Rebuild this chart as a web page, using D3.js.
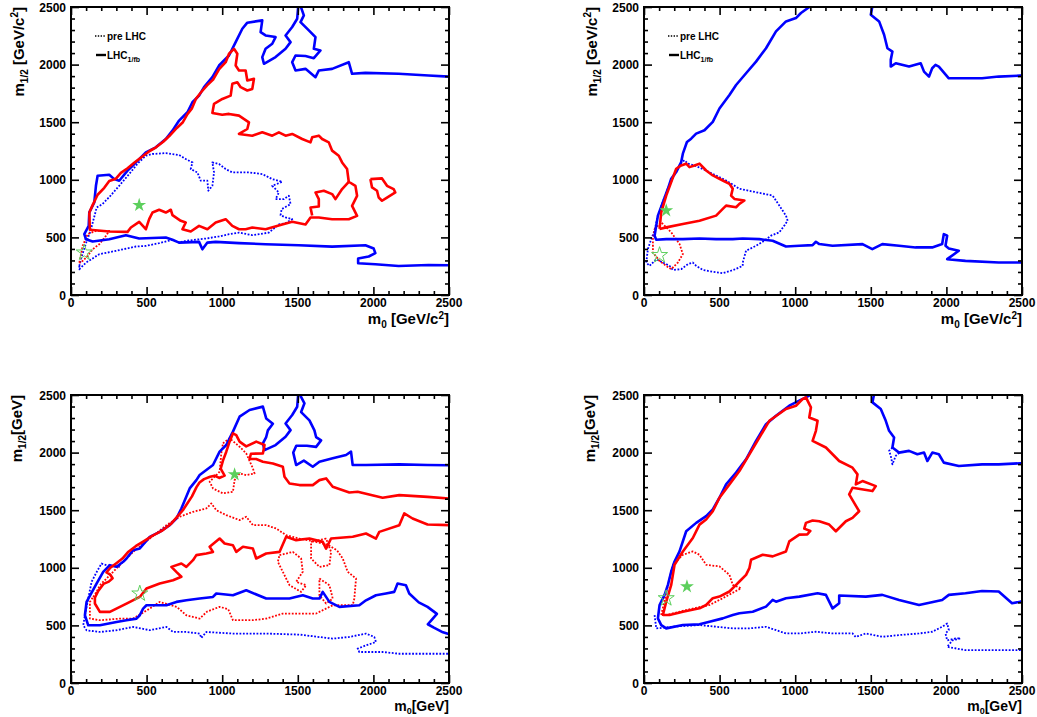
<!DOCTYPE html>
<html><head><meta charset="utf-8">
<script src="https://cdn.jsdelivr.net/npm/d3@7"></script>
<style>
body{margin:0;background:#fff}
text{font-family:"Liberation Sans",Arial,Helvetica,sans-serif;font-weight:bold;fill:#000}
</style>
</head><body>
<svg id="c" width="1037" height="717"></svg>
<script>
// ---------- axis ticks ----------
const majorTicks = [0, 500, 1000, 1500, 2000, 2500];
const minorTicks = d3.range(0, 2501, 100);
const legendLabels = ["pre LHC", "LHC"];

// ---------- Panel TL (top-left) ----------
const TL_blueA = [[2500,258],[2365,261],[2167,252],[2013,267],[1899,276],[1899,316],[1969,334],[2013,363],[2002,403],[1947,432],[1727,420],[1507,432],[1287,441],[1111,450],[957,461],[902,455],[869,397],[847,461],[715,455],[671,479],[627,499],[451,490],[363,519],[253,484],[143,464],[99,484],[88,528],[117,600],[121,716],[154,803],[165,948],[176,1035],[253,1044],[286,1006],[319,992],[374,1079],[407,1122],[451,1180],[495,1238],[561,1282],[627,1354],[671,1427],[715,1514],[770,1586],[803,1673],[847,1731],[880,1804],[935,1891],[979,1992],[1045,2079],[1089,2195],[1133,2311],[1166,2364],[1265,2384],[1254,2282],[1287,2253],[1353,2239],[1331,2181],[1287,2137],[1265,2065],[1276,2007],[1353,2065],[1419,2137],[1452,2195],[1419,2253],[1463,2326],[1496,2398],[1503,2510]];
const TL_blueB = [[1518,2510],[1540,2427],[1518,2369],[1573,2297],[1617,2239],[1606,2137],[1650,2123],[1606,2056],[1551,2074],[1485,2079],[1463,2021],[1485,1949],[1551,1963],[1617,1891],[1639,1949],[1727,1963],[1837,2021],[1859,1920],[1947,1928],[2167,1920],[2365,1905],[2510,1895]];
const TL_red = [[121,716],[143,780],[176,870],[220,930],[253,990],[297,1010],[330,1060],[374,1100],[420,1150],[470,1200],[520,1250],[560,1280],[610,1330],[650,1380],[700,1450],[740,1500],[770,1570],[800,1620],[825,1700],[860,1760],[900,1820],[940,1870],[980,1960],[1023,2021],[1045,2094],[1078,2137],[1100,2094],[1089,1992],[1111,1949],[1155,1949],[1166,1862],[1210,1876],[1199,1789],[1166,1775],[1122,1804],[1100,1847],[1067,1833],[1056,1731],[1001,1702],[946,1660],[935,1580],[1000,1565],[1045,1572],[1111,1557],[1177,1499],[1166,1441],[1111,1398],[1199,1383],[1265,1412],[1331,1383],[1375,1412],[1419,1383],[1463,1398],[1529,1354],[1584,1325],[1595,1369],[1639,1383],[1661,1354],[1705,1325],[1727,1253],[1771,1209],[1793,1151],[1826,1093],[1837,983],[1881,948],[1892,861],[1859,774],[1892,687],[1837,658],[1727,658],[1639,673],[1584,673],[1551,612],[1463,635],[1397,612],[1287,571],[1199,586],[1155,571],[1111,571],[1067,600],[1023,658],[957,629],[902,571],[847,600],[792,551],[737,571],[759,629],[726,644],[671,693],[660,740],[627,716],[583,740],[539,716],[517,658],[495,571],[451,635],[396,586],[374,548],[253,551],[125,566],[121,716]];
const TL_redInner = [[1837,983],[1793,920],[1749,832],[1727,876],[1672,905],[1617,890],[1639,832],[1639,768],[1584,760],[1595,690]];
const TL_redBlob = [[1980,1006],[2057,1012],[2090,948],[2134,919],[2145,890],[2090,846],[2057,818],[2035,846],[2024,905],[1991,934],[1980,1006]];
const TL_blueDot = [[55,252],[70,330],[99,450],[130,560],[154,680],[170,760],[209,790],[260,860],[320,950],[385,1050],[440,1140],[495,1209],[539,1224],[627,1232],[715,1215],[759,1180],[803,1151],[792,1093],[836,1064],[858,992],[902,992],[908,905],[935,948],[946,1064],[935,1151],[979,1137],[1023,1093],[1067,1064],[1177,1064],[1265,1050],[1331,1006],[1397,983],[1331,948],[1375,890],[1353,832],[1408,832],[1441,861],[1452,789],[1393,745],[1386,693],[1419,673],[1463,658],[1419,624],[1375,612],[1309,542],[1199,519],[1111,542],[1045,528],[979,508],[891,490],[759,470],[715,455],[671,479],[583,450],[495,426],[429,421],[297,383],[187,354],[99,281],[55,223],[55,252]];
const TL_redDot = [[55,281],[66,350],[77,426],[110,528],[165,557],[253,557],[231,513],[187,441],[143,397],[110,339],[66,281],[55,281]];
const TL_starFilled = [451, 780];
const TL_starOpen = [88, 368];

// ---------- Panel TR (top-right) ----------
const TR_blueA = [[2510,282],[2489,282],[2346,282],[2126,296],[2005,311],[2082,384],[2016,404],[1994,427],[2005,515],[1983,529],[1972,442],[1906,413],[1796,413],[1687,427],[1576,442],[1510,398],[1445,442],[1247,427],[1159,442],[1137,462],[1115,433],[1027,427],[939,421],[851,471],[763,485],[653,491],[587,485],[477,485],[367,491],[257,485],[147,485],[81,479],[70,515],[81,602],[92,689],[125,805],[158,922],[180,1009],[213,1067],[246,1154],[257,1227],[284,1328],[312,1357],[345,1401],[400,1430],[455,1503],[499,1619],[565,1736],[609,1823],[675,1925],[741,2026],[807,2142],[873,2288],[939,2375],[1005,2404],[1038,2448],[1104,2510]];
const TR_blueB = [[1511,2510],[1500,2433],[1555,2375],[1588,2259],[1610,2142],[1643,2113],[1632,2041],[1632,1983],[1665,2012],[1753,1983],[1830,2012],[1852,1939],[1885,1896],[1906,1968],[1928,1997],[1950,1983],[2016,1881],[2126,1881],[2236,1881],[2346,1896],[2489,1904],[2510,1904]];
const TR_red = [[103,573],[114,718],[147,863],[180,980],[213,1096],[246,1125],[279,1140],[301,1110],[334,1125],[367,1140],[411,1081],[455,1038],[521,994],[565,965],[587,922],[576,863],[598,834],[664,820],[631,791],[609,762],[543,776],[521,747],[477,689],[367,645],[257,616],[147,587],[103,573]];
const TR_blueDot = [[15,282],[26,400],[48,485],[70,560],[92,690],[125,810],[160,930],[200,1040],[246,1150],[268,1170],[290,1140],[334,1125],[411,1080],[543,994],[631,922],[741,892],[851,863],[895,776],[939,689],[950,645],[928,602],[895,544],[840,515],[796,471],[741,427],[675,384],[653,282],[653,253],[587,215],[521,189],[455,201],[389,218],[345,253],[323,282],[290,267],[246,224],[191,218],[169,253],[125,282],[81,311],[37,253],[15,282]];
const TR_redDot = [[70,573],[114,631],[180,544],[235,442],[257,355],[224,282],[180,224],[147,253],[103,296],[59,369],[59,485],[70,573]];
const TR_starFilled = [147, 733];
const TR_starOpen = [103, 346];

// ---------- Panel BL (bottom-left) ----------
const BL_blueA = [[2510,420],[2460,440],[2400,480],[2360,510],[2380,540],[2420,600],[2358,661],[2300,700],[2237,777],[2215,849],[2160,863],[2138,791],[2083,777],[2017,762],[1951,718],[1907,675],[1775,661],[1709,704],[1665,791],[1643,733],[1599,733],[1533,762],[1445,733],[1291,733],[1159,805],[1071,762],[961,777],[939,747],[851,733],[763,718],[697,704],[631,675],[499,675],[477,646],[455,588],[433,559],[367,545],[301,530],[191,501],[114,501],[92,588],[103,704],[169,863],[213,965],[257,1023],[301,1009],[345,1052],[367,1081],[411,1153],[455,1168],[521,1269],[587,1312],[653,1370],[697,1428],[730,1515],[785,1689],[829,1761],[851,1805],[939,1892],[983,2008],[1027,2066],[1071,2182],[1115,2312],[1181,2370],[1269,2399],[1291,2297],[1335,2250],[1302,2193],[1291,2135],[1269,2080],[1280,2022],[1353,2065],[1419,2137],[1452,2195],[1419,2253],[1463,2326],[1496,2398],[1503,2510]];
const BL_blueB = [[1511,2510],[1544,2428],[1522,2352],[1577,2280],[1610,2193],[1621,2135],[1654,2106],[1621,2050],[1560,2060],[1490,2060],[1470,2000],[1489,1892],[1540,1930],[1599,1877],[1643,1921],[1731,1950],[1819,1979],[1852,2008],[1863,1892],[1951,1892],[2171,1898],[2358,1892],[2510,1890]];
const BL_red = [[2510,1600],[2358,1616],[2171,1631],[2061,1608],[1896,1660],[1841,1654],[1731,1703],[1687,1776],[1643,1761],[1599,1718],[1511,1718],[1445,1732],[1412,1790],[1401,1877],[1335,1906],[1269,1921],[1225,1944],[1181,1944],[1190,1990],[1269,1993],[1280,2066],[1225,2095],[1159,2054],[1115,2095],[1093,2152],[1071,2167],[1049,2095],[1027,2008],[1005,1930],[990,1860],[1016,1800],[980,1780],[950,1800],[920,1790],[880,1770],[850,1740],[830,1700],[800,1620],[770,1560],[740,1500],[700,1440],[660,1380],[600,1320],[540,1280],[480,1230],[430,1190],[380,1140],[340,1080],[300,1040],[260,1000],[235,960],[260,940],[275,910],[250,880],[215,860],[180,800],[158,740],[158,690],[191,617],[257,617],[367,689],[455,747],[499,820],[587,863],[675,892],[730,922],[700,960],[664,1008],[730,1037],[763,1008],[807,1066],[829,1110],[895,1124],[939,1138],[917,1182],[983,1254],[1016,1211],[1071,1196],[1093,1138],[1137,1182],[1203,1167],[1225,1081],[1291,1124],[1379,1138],[1423,1269],[1489,1240],[1577,1254],[1665,1225],[1687,1167],[1720,1254],[1863,1269],[1951,1298],[2017,1254],[2039,1312],[2171,1370],[2204,1472],[2259,1428],[2358,1376],[2510,1370]];
const BL_redDot = [[147,747],[169,791],[191,849],[235,907],[320,1020],[411,1138],[521,1254],[631,1370],[719,1443],[807,1486],[895,1515],[928,1559],[961,1500],[1027,1457],[1115,1414],[1159,1443],[1203,1370],[1291,1370],[1357,1341],[1423,1283],[1511,1254],[1600,1230],[1700,1200],[1760,1150],[1797,1081],[1830,965],[1885,907],[1874,733],[1863,675],[1731,675],[1621,603],[1401,603],[1291,559],[1203,545],[1071,545],[1040,640],[983,661],[900,620],[851,559],[763,588],[700,660],[587,704],[521,646],[411,559],[323,559],[191,545],[125,559],[125,704],[147,747]];
const BL_redDotPeak = [[1005,2080],[1049,2124],[1115,2051],[1159,1993],[1203,1863],[1214,1819],[1159,1805],[1115,1819],[1082,1761],[1071,1660],[1005,1646],[939,1689],[917,1747],[983,1834],[994,1993],[1005,2080]];
const BL_redDotBlob1 = [[1379,1110],[1467,1138],[1522,1081],[1533,965],[1489,878],[1555,849],[1522,791],[1445,849],[1401,965],[1368,1052],[1379,1110]];
const BL_redDotBlob2 = [[1588,1225],[1687,1254],[1720,1138],[1709,1023],[1643,1008],[1588,1081],[1588,1225]];
const BL_redDotBlob3 = [[1643,907],[1709,849],[1731,733],[1687,690],[1643,761],[1643,907]];
const BL_blueDot = [[323,1008],[235,1023],[202,1037],[169,962],[136,878],[114,733],[92,588],[81,501],[103,457],[191,443],[301,458],[411,487],[521,458],[631,487],[675,443],[763,443],[851,429],[862,391],[895,443],[1071,429],[1291,429],[1511,420],[1731,385],[1841,400],[1951,429],[2006,400],[2017,356],[1951,327],[1896,298],[1907,269],[2061,269],[2171,254],[2358,254],[2510,254]];
const BL_starFilled = [1082, 1810];
const BL_starOpen = [455, 776];

// ---------- Panel BR (bottom-right) ----------
const BR_blueA = [[2510,706],[2489,706],[2434,692],[2346,794],[2236,799],[2126,779],[2016,765],[1972,721],[1819,677],[1687,721],[1576,765],[1467,750],[1291,759],[1291,692],[1247,648],[1225,706],[1203,765],[1148,779],[1027,750],[939,736],[873,706],[851,721],[807,663],[719,619],[631,605],[587,590],[521,561],[433,532],[367,509],[257,503],[147,474],[114,503],[92,561],[103,677],[136,765],[158,852],[180,968],[202,1055],[235,1142],[279,1317],[345,1390],[411,1448],[455,1506],[499,1608],[543,1724],[609,1826],[675,1942],[741,2102],[807,2247],[873,2320],[961,2407],[1027,2451],[1093,2494],[1100,2510]];
const BR_blueB = [[1522,2510],[1511,2436],[1566,2378],[1599,2276],[1621,2189],[1654,2131],[1643,2044],[1687,2000],[1753,2015],[1808,1986],[1852,2000],[1874,1927],[1907,2000],[1950,1986],[1983,1913],[2082,1884],[2236,1898],[2346,1898],[2489,1907],[2510,1907]];
const BR_red = [[125,590],[150,720],[180,852],[202,1026],[257,1142],[323,1259],[367,1375],[411,1419],[455,1491],[499,1608],[565,1724],[631,1840],[697,1985],[763,2131],[829,2276],[939,2378],[1005,2407],[1049,2465],[1071,2480],[1104,2392],[1093,2305],[1148,2276],[1137,2189],[1115,2102],[1203,2044],[1291,1927],[1379,1869],[1412,1811],[1401,1724],[1445,1753],[1533,1709],[1511,1666],[1379,1695],[1357,1637],[1390,1564],[1423,1491],[1379,1433],[1335,1404],[1269,1317],[1225,1375],[1159,1404],[1115,1410],[1071,1390],[1060,1340],[1100,1320],[1080,1290],[1027,1288],[961,1230],[939,1142],[851,1099],[785,1113],[708,1070],[697,997],[675,939],[631,881],[609,852],[565,794],[499,750],[455,736],[411,677],[367,648],[257,619],[169,590],[125,590]];
const BR_redDot = [[114,590],[150,800],[191,1026],[257,1113],[323,1142],[367,1113],[411,1026],[499,1012],[565,939],[587,852],[642,823],[521,736],[433,677],[300,640],[147,590],[114,590]];
const BR_blueDot = [[70,590],[81,474],[200,490],[367,503],[587,474],[697,474],[807,488],[939,430],[1027,430],[1137,445],[1247,430],[1379,430],[1400,400],[1467,430],[1576,401],[1687,416],[1819,430],[1907,445],[1972,488],[2005,517],[2016,460],[1994,430],[2005,370],[2060,387],[2093,387],[2040,370],[2005,314],[2126,285],[2346,285],[2510,285]];
const BR_blueDot2 = [[1643,2044],[1621,2015],[1632,1972],[1643,1898],[1665,1972],[1690,2000]];
const BR_starFilled = [284, 837];
const BR_starOpen = [147, 735];

// ---------- layout ----------
const BLUE = "#0000ff", RED = "#ff0000", GREEN = "#5ccf5c";
const panels = [
  {x0:71, x1:449, y0:7, y1:295, units:"c2", legend:true,
   curves:[[TL_blueDot,BLUE,1],[TL_redDot,RED,1],[TL_blueA,BLUE,0],[TL_blueB,BLUE,0],[TL_red,RED,0],[TL_redInner,RED,0],[TL_redBlob,RED,0]],
   filled:TL_starFilled, open:TL_starOpen},
  {x0:644, x1:1022, y0:7, y1:295, units:"c2", legend:true,
   curves:[[TR_blueDot,BLUE,1],[TR_redDot,RED,1],[TR_blueA,BLUE,0],[TR_blueB,BLUE,0],[TR_red,RED,0]],
   filled:TR_starFilled, open:TR_starOpen},
  {x0:71, x1:449, y0:395, y1:683, units:"GeV", legend:false,
   curves:[[BL_blueDot,BLUE,1],[BL_redDot,RED,1],[BL_redDotPeak,RED,1],[BL_redDotBlob1,RED,1],[BL_redDotBlob2,RED,1],[BL_redDotBlob3,RED,1],[BL_blueA,BLUE,0],[BL_blueB,BLUE,0],[BL_red,RED,0]],
   filled:BL_starFilled, open:BL_starOpen},
  {x0:644, x1:1022, y0:395, y1:683, units:"GeV", legend:false,
   curves:[[BR_blueDot,BLUE,1],[BR_blueDot2,BLUE,1],[BR_redDot,RED,1],[BR_blueA,BLUE,0],[BR_blueB,BLUE,0],[BR_red,RED,0]],
   filled:BR_starFilled, open:BR_starOpen}
];

const svg = d3.select("#c");
svg.append("rect").attr("width",1037).attr("height",717).attr("fill","#fff");

panels.forEach((p, i) => {
  const x = d3.scaleLinear().domain([0,2500]).range([p.x0, p.x1]);
  const y = d3.scaleLinear().domain([0,2500]).range([p.y1, p.y0]);
  const g = svg.append("g");
  const cid = "clip" + i;
  svg.append("clipPath").attr("id", cid).append("rect")
    .attr("x", p.x0).attr("y", p.y0).attr("width", p.x1 - p.x0).attr("height", p.y1 - p.y0);

  const line = d3.line().x(d => x(d[0])).y(d => y(d[1]));
  const cg = g.append("g").attr("clip-path", `url(#${cid})`);
  p.curves.forEach(([data, col, dotted]) => {
    cg.append("path").attr("d", line(data)).attr("fill","none")
      .attr("stroke", col).attr("stroke-width", dotted ? 1.8 : 2.6)
      .attr("stroke-linejoin","round")
      .attr("stroke-dasharray", dotted ? "1.8,1.6" : null);
  });
  // stars
  cg.append("path").attr("d", d3.symbol(d3.symbolStar, 60)())
    .attr("transform", `translate(${x(p.filled[0])},${y(p.filled[1])})`)
    .attr("fill", GREEN);
  cg.append("path").attr("d", d3.symbol(d3.symbolStar, 80)())
    .attr("transform", `translate(${x(p.open[0])},${y(p.open[1])})`)
    .attr("fill", "none").attr("stroke", GREEN).attr("stroke-width", 1);

  // ticks (inward, on all four sides)
  const minor = minorTicks.filter(t => majorTicks.indexOf(t) < 0);
  const addAxis = (axis, tf, vals, len) => {
    const a = g.append("g").attr("transform", tf)
      .call(axis.tickValues(vals).tickSize(-len).tickFormat(""));
    a.select(".domain").remove();
    a.selectAll("line").attr("stroke","#000").attr("stroke-width",1.6);
  };
  [[minor,4],[majorTicks,8]].forEach(([vals,len]) => {
    addAxis(d3.axisBottom(x), `translate(0,${p.y1})`, vals, len);
    addAxis(d3.axisTop(x), `translate(0,${p.y0})`, vals, len);
    addAxis(d3.axisLeft(y), `translate(${p.x0},0)`, vals, len);
    addAxis(d3.axisRight(y), `translate(${p.x1},0)`, vals, len);
  });
  g.append("rect").attr("x", p.x0).attr("y", p.y0)
    .attr("width", p.x1 - p.x0).attr("height", p.y1 - p.y0)
    .attr("fill","none").attr("stroke","#000").attr("stroke-width",2);

  // tick labels
  majorTicks.forEach(t => {
    g.append("text").attr("x", x(t)).attr("y", p.y1 + 12).attr("text-anchor","middle")
      .attr("font-size",12).text(t);
    g.append("text").attr("x", p.x0 - 5).attr("y", y(t) + 4.5).attr("text-anchor","end")
      .attr("font-size",12).text(t);
  });

  // axis titles
  if (p.units === "c2") {
    const xt = g.append("text").attr("x", p.x1).attr("y", p.y1 + 29).attr("text-anchor","end").attr("font-size",15);
    xt.append("tspan").text("m");
    xt.append("tspan").attr("font-size",10).attr("dy",4).text("0");
    xt.append("tspan").attr("dy",-4).text(" [GeV/c");
    xt.append("tspan").attr("font-size",10).attr("dy",-5).text("2");
    xt.append("tspan").attr("dy",5).text("]");
    const yt = g.append("text").attr("transform", `translate(${p.x0 - 47},${p.y0}) rotate(-90)`)
      .attr("text-anchor","end").attr("font-size",15);
    yt.append("tspan").text("m");
    yt.append("tspan").attr("font-size",10).attr("dy",4).text("1/2");
    yt.append("tspan").attr("dy",-4).text(" [GeV/c");
    yt.append("tspan").attr("font-size",10).attr("dy",-6).text("2");
    yt.append("tspan").attr("dy",6).text("]");
  } else {
    const xt = g.append("text").attr("x", p.x1).attr("y", p.y1 + 28).attr("text-anchor","end").attr("font-size",14);
    xt.append("tspan").text("m");
    xt.append("tspan").attr("font-size",9).attr("dy",2.5).text("0");
    xt.append("tspan").attr("dy",-2.5).text("[GeV]");
    const yt = g.append("text").attr("transform", `translate(${p.x0 - 49},${p.y0}) rotate(-90)`)
      .attr("text-anchor","end").attr("font-size",15);
    yt.append("tspan").text("m");
    yt.append("tspan").attr("font-size",10).attr("dy",4).text("1/2");
    yt.append("tspan").attr("dy",-4).text("[GeV]");
  }

  // legend
  if (p.legend) {
    const lx = p.x0 + 24;
    g.append("line").attr("x1", lx).attr("x2", lx + 11).attr("y1", 36).attr("y2", 36)
      .attr("stroke","#000").attr("stroke-width",1.4).attr("stroke-dasharray","1.4,1.4");
    g.append("text").attr("x", lx + 12).attr("y", 39.5).attr("font-size",10).text(legendLabels[0]);
    g.append("line").attr("x1", lx + 1).attr("x2", lx + 11).attr("y1", 55).attr("y2", 55)
      .attr("stroke","#000").attr("stroke-width",2.4);
    const lt = g.append("text").attr("x", lx + 12).attr("y", 58.5).attr("font-size",10);
    lt.append("tspan").text(legendLabels[1]);
    lt.append("tspan").attr("font-size",7).attr("dy",3).text("1/fb");
  }
});
</script>
</body></html>
